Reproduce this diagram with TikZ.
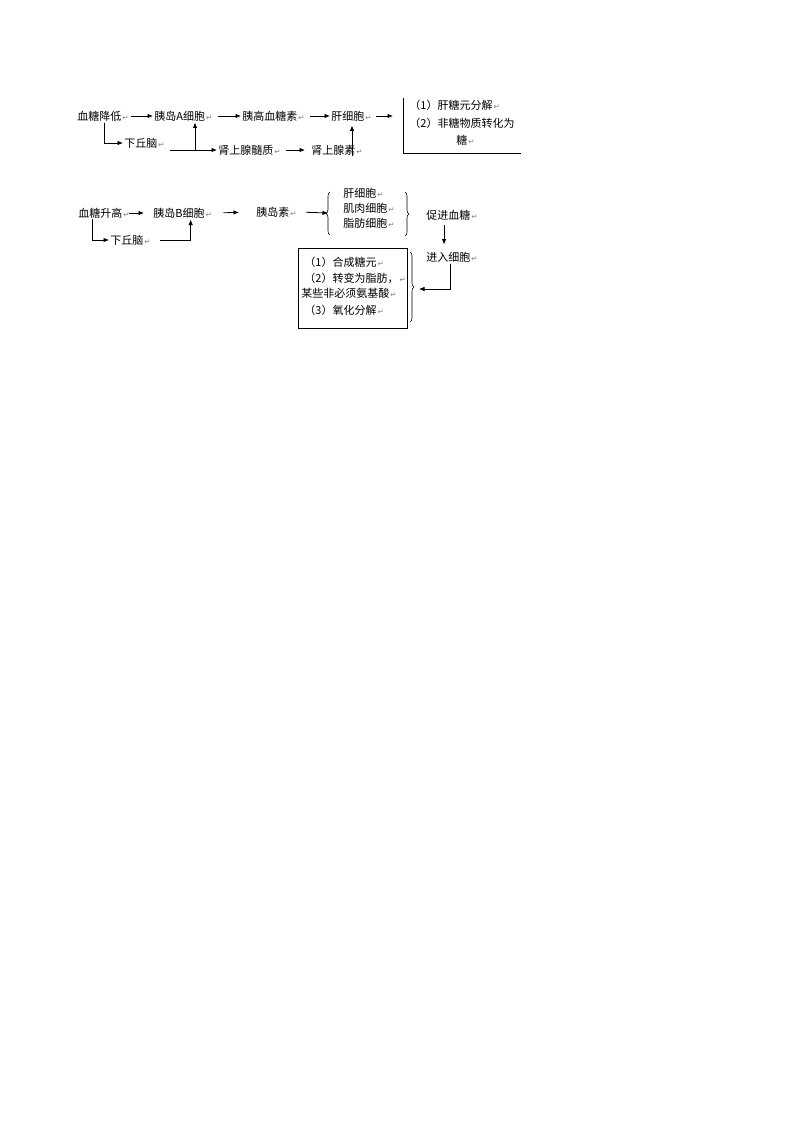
\documentclass[tikz,border=0pt]{standalone}
\usepackage{fontspec}
\usepackage{xcolor}
\usepackage{tikz}
\usetikzlibrary{positioning,calc,arrows.meta,decorations.pathreplacing}
\newfontfamily\cjk{Noto Sans CJK SC}
\newfontfamily\symfont{DejaVu Sans}
\newcommand{\ret}{{\kern1pt\symfont\fontsize{7.5}{7.5}\selectfont\color{black!50}↵}}
\tikzset{
  txt/.style={anchor=west, inner sep=1pt, font=\cjk\fontsize{11}{13}\selectfont},
  brace/.style={decorate, decoration={brace, amplitude=4pt}, line width=0.6pt},
}

\begin{document}
\begin{tikzpicture}[x=1pt, y=-1pt, line width=0.8pt, >={Latex[length=5.5pt,width=4.5pt]}]
    \useasboundingbox (0,0) rectangle (800,1132);

    % Blood sugar falls
    \begin{scope}
        \node[txt] (dec) at (76,116) {血糖降低\ret};
        \node[txt] (isa) at (153,116) {胰岛A细胞\ret};
        \node[txt] (glu) at (241,116) {胰高血糖素\ret};
        \node[txt] (liv) at (330,116) {肝细胞\ret};
        \node[txt] (hyp) at (123,143) {下丘脑\ret};
        \node[txt] (adm) at (217,150) {肾上腺髓质\ret};
        \node[txt] (adr) at (310,150) {肾上腺素\ret};
        \coordinate (boxa) at (403,98);
        \coordinate (boxb) at (521,153);
        \draw[line width=0.6pt] (boxa) |- (boxb);
        \node[txt] (res1) at (408,105) {（1）肝糖元分解\ret};
        \node[txt] (res2) at (408,123) {（2）非糖物质转化为};
        \node[txt] (res3) at (455,140) {糖\ret};
        \draw[->] ([xshift=1]dec.east) -- (isa.west);
        \draw[->, shorten <=4pt] (isa.east) -- (glu.west);
        \draw[->, shorten <=4pt] (glu.east) -- (liv.west);
        \draw[->] ([xshift=3]liv.east) -- ($(boxa |- liv)+(-10,0)$);
        \draw[->] ([xshift=1]dec.south) |- (hyp.west);
        \draw[->] ($(hyp.east |- adm)+(4,0)$) -- (adm.west);
        \coordinate (ja) at (195,150);
        \draw[->] (ja) -- (ja |- isa.south);
        \draw[->, shorten <=4pt, shorten >=5pt] (adm.east) -- (adr.west);
        \coordinate (jb) at (352,156);
        \draw[->] (jb) -- ($(jb |- liv.south)+(0,3)$);
    \end{scope}

    % Blood sugar rises
    \begin{scope}
        \node[txt] (inc) at (77,213) {血糖升高\ret};
        \node[txt] (isb) at (152,213) {胰岛B细胞\ret};
        \node[txt] (ins) at (255,212) {胰岛素\ret};
        \node[txt] (hyq) at (109,240) {下丘脑\ret};
        \node[txt] (cl1) at (342,193) {肝细胞\ret};
        \node[txt] (cl2) at (342,208) {肌肉细胞\ret};
        \node[txt] (cl3) at (342,223) {脂肪细胞\ret};
        \node[txt] (pro) at (425,215) {促进血糖\ret};
        \node[txt] (ent) at (425,257) {进入细胞\ret};
        \node[draw, line width=0.6pt, minimum width=109pt, minimum height=80pt] (box) at (352.5,288) {};
        \node[txt] (sy1) at (303,262) {（1）合成糖元\ret};
        \node[txt] (sy2) at (303,278) {（2）转变为脂肪，\ret};
        \node[txt] (sy3) at (300,293) {某些非必须氨基酸\ret};
        \node[txt] (sy4) at (303,310) {（3）氧化分解\ret};
        \draw[brace] (330,235) -- (330,192);
        \draw[brace] (405,192) -- (405,236);
        \draw[brace] (410,252) -- (410,322);
        \coordinate (bra) at (328,213);
        \coordinate (brb) at (419,289);
        \draw[->, shorten <=-2pt, shorten >=8pt] (inc.east) -- (isb.west);
        \draw[->, shorten <=10pt, shorten >=16pt] (isb.east) -- (ins.west);
        \draw[->, shorten <=8pt] (ins.east) -- (bra);
        \draw[->] ([xshift=-12]inc.south) |- (hyq.west);
        \draw[->] ([xshift=8]hyq.east) -| ([xshift=8]isb.south);
        \draw[->, shorten <=4pt, shorten >=6pt] ([xshift=-8]pro.south) -- ([xshift=-8]ent.north);
        \draw[->] ([xshift=-2]ent.south) |- (brb);
    \end{scope}
\end{tikzpicture}
\end{document}
